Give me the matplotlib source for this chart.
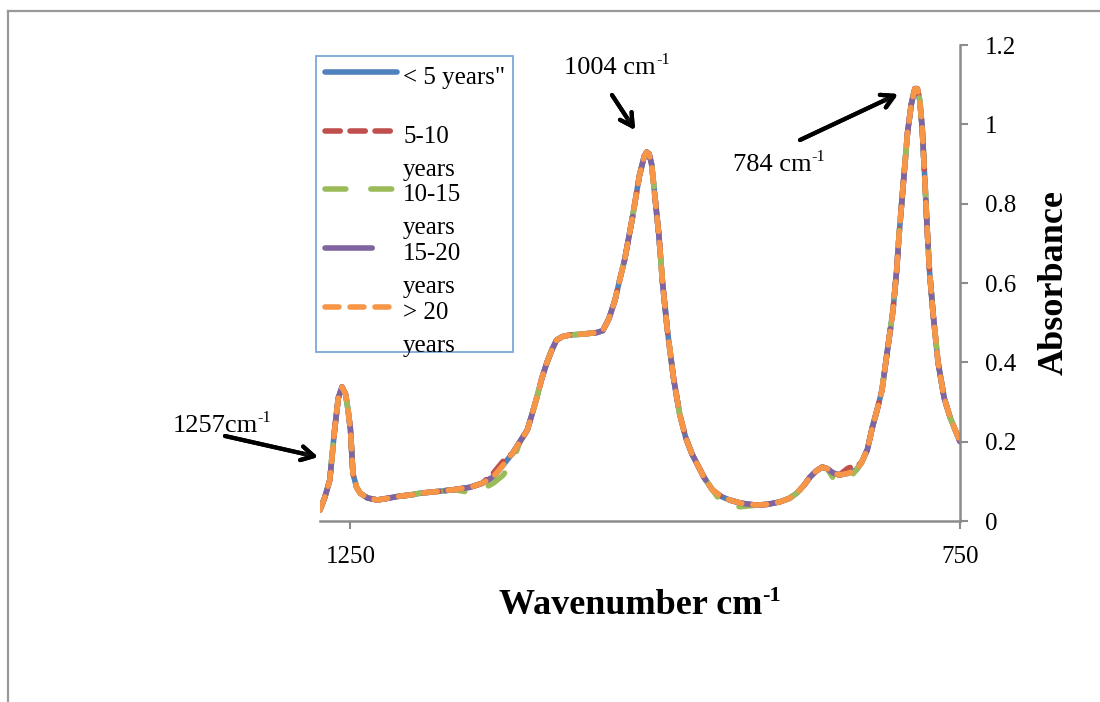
import matplotlib.pyplot as plt
import matplotlib.patheffects as pe
from matplotlib.lines import Line2D
from matplotlib.patches import Rectangle

plt.rcParams['font.family'] = ['Liberation Serif', 'DejaVu Serif']
plt.rcParams['lines.scale_dashes'] = False

# FTIR spectra, values
wavenumber = [1275, 1271, 1267, 1263, 1260, 1257, 1254, 1252, 1250, 1248,
              1245, 1242, 1236, 1228, 1220, 1211, 1200, 1193, 1180, 1165,
              1152, 1142, 1133, 1125, 1117, 1111, 1105, 1101, 1097, 1093,
              1089, 1085, 1081, 1076, 1070, 1060, 1048, 1043, 1038, 1033,
              1029, 1025, 1019, 1013, 1009, 1007, 1005, 1003, 1000, 997,
              994, 990, 985, 980, 975, 970, 966, 960, 953, 946,
              939, 930, 917, 908, 898, 890, 884, 878, 873, 868,
              863, 859, 854, 849, 842, 835, 831, 826, 822, 818,
              814, 810, 805, 802, 800, 796, 793, 790, 787, 785,
              783, 781, 779, 777, 775, 772, 768, 763, 758, 754,
              750]

abs_lt5 = [0.028, 0.060, 0.103, 0.230, 0.310, 0.338, 0.320, 0.280, 0.230, 0.120,
           0.085, 0.070, 0.058, 0.053, 0.057, 0.062, 0.066, 0.070, 0.074, 0.079,
           0.085, 0.095, 0.111, 0.140, 0.171, 0.200, 0.229, 0.270, 0.313, 0.360,
           0.398, 0.430, 0.456, 0.465, 0.469, 0.471, 0.475, 0.480, 0.510, 0.557,
           0.610, 0.660, 0.760, 0.870, 0.920, 0.930, 0.925, 0.900, 0.810, 0.720,
           0.600, 0.480, 0.360, 0.270, 0.210, 0.170, 0.146, 0.110, 0.078, 0.062,
           0.053, 0.045, 0.040, 0.042, 0.048, 0.057, 0.070, 0.090, 0.111, 0.126,
           0.136, 0.132, 0.121, 0.116, 0.120, 0.129, 0.146, 0.180, 0.235, 0.280,
           0.330, 0.420, 0.530, 0.630, 0.720, 0.870, 0.980, 1.050, 1.090, 1.090,
           1.060, 0.990, 0.870, 0.740, 0.630, 0.520, 0.400, 0.310, 0.260, 0.230,
           0.200]

abs_5_10 = [0.028, 0.060, 0.103, 0.230, 0.310, 0.338, 0.320, 0.280, 0.230, 0.120,
            0.085, 0.070, 0.058, 0.053, 0.057, 0.062, 0.066, 0.070, 0.074, 0.079,
            0.085, 0.095, 0.120, 0.150, 0.171, 0.200, 0.229, 0.270, 0.313, 0.360,
            0.398, 0.430, 0.456, 0.465, 0.469, 0.471, 0.475, 0.480, 0.510, 0.557,
            0.610, 0.660, 0.760, 0.870, 0.920, 0.930, 0.925, 0.900, 0.810, 0.720,
            0.600, 0.480, 0.360, 0.270, 0.210, 0.170, 0.146, 0.110, 0.078, 0.062,
            0.053, 0.045, 0.040, 0.042, 0.048, 0.057, 0.070, 0.090, 0.111, 0.126,
            0.136, 0.132, 0.121, 0.116, 0.133, 0.140, 0.146, 0.180, 0.235, 0.280,
            0.330, 0.420, 0.530, 0.630, 0.720, 0.870, 0.980, 1.050, 1.090, 1.090,
            1.060, 0.990, 0.870, 0.740, 0.630, 0.520, 0.400, 0.310, 0.260, 0.230,
            0.200]

abs_10_15 = [0.028, 0.060, 0.103, 0.230, 0.310, 0.338, 0.320, 0.280, 0.230, 0.120,
             0.085, 0.070, 0.058, 0.053, 0.057, 0.062, 0.066, 0.070, 0.074, 0.079,
             0.072, 0.080, 0.095, 0.115, 0.148, 0.200, 0.229, 0.270, 0.313, 0.360,
             0.398, 0.430, 0.456, 0.465, 0.469, 0.471, 0.475, 0.480, 0.510, 0.557,
             0.610, 0.660, 0.760, 0.870, 0.920, 0.930, 0.925, 0.900, 0.810, 0.720,
             0.600, 0.480, 0.360, 0.270, 0.210, 0.170, 0.146, 0.110, 0.078, 0.048,
             0.038, 0.036, 0.040, 0.042, 0.048, 0.057, 0.070, 0.090, 0.111, 0.126,
             0.136, 0.132, 0.108, 0.100, 0.103, 0.129, 0.146, 0.180, 0.235, 0.280,
             0.330, 0.420, 0.530, 0.630, 0.720, 0.870, 0.980, 1.050, 1.100, 1.100,
             1.060, 0.990, 0.870, 0.740, 0.630, 0.520, 0.400, 0.310, 0.260, 0.230,
             0.200]

# these two sit right on top of the < 5 years trace
abs_15_20 = list(abs_lt5)
abs_gt20 = list(abs_lt5)

labels = [['< 5 years"'], ['5-10', 'years'], ['10-15', 'years'],
          ['15-20', 'years'], ['> 20', 'years']]
colors = ['#4F81BD', '#C0504D', '#9BBB59', '#8064A2', '#F79646']
dash_list = [None, (11, 7), (15, 18), (34, 24), (10, 8)]
series = [abs_lt5, abs_5_10, abs_10_15, abs_15_20, abs_gt20]

W, H = 1100, 702
LW = 4.0


def px(x, y):
    return x / W, 1 - y / H


fig = plt.figure(figsize=(11, 7.02), dpi=100)
ax = fig.add_axes([320 / W, 1 - 521 / H, 640 / W, 476 / H])
renderer = fig.canvas.get_renderer()


def sup_text(xc, yb, base, sup, size, weight='normal'):
    # text + raised "-1" (kept as a plain hyphen like the original)
    t1 = fig.text(0, 0, base, fontsize=size, fontweight=weight, ha='left', va='baseline')
    t2 = fig.text(0, 0, sup, fontsize=size * 0.62, fontweight=weight, ha='left',
                  va='baseline')
    w1 = t1.get_window_extent(renderer).width
    w2 = t2.get_window_extent(renderer).width
    x0 = xc - (w1 + w2) / 2
    t1.set_position(px(x0, yb))
    t2.set_position(px(x0 + w1, yb - size * 1.39 * 0.36))


for vals, c, d in zip(series, colors, dash_list):
    if d is None:
        ax.plot(wavenumber, vals, color=c, lw=LW, solid_capstyle='round')
    else:
        ax.plot(wavenumber, vals, color=c, lw=LW, dashes=d, dash_capstyle='round')

ax.set_xlim(1275, 750)
ax.set_ylim(0, 1.2)
ax.set_xticks([1250, 750])
ax.set_yticks([0, 0.2, 0.4, 0.6, 0.8, 1.0, 1.2])
ax.set_yticklabels(['0', '0.2', '0.4', '0.6', '0.8', '1', '1.2'])
ax.yaxis.tick_right()
ax.spines['top'].set_visible(False)
ax.spines['left'].set_visible(False)
for s in ['right', 'bottom']:
    ax.spines[s].set_color('#8c8c8c')
    ax.spines[s].set_linewidth(1.8)
ax.tick_params(axis='both', direction='out', length=6, width=1.5, color='#8c8c8c',
               labelsize=18)
ax.tick_params(axis='x', pad=12)
ax.tick_params(axis='y', pad=12)

sup_text(640, 614, 'Wavenumber cm', '-1', 26, 'bold')
ax.yaxis.set_label_position('right')
ax.set_ylabel('Absorbance', fontsize=26, fontweight='bold', rotation=90)
ax.yaxis.set_label_coords(1.147, 0.5)
ax.yaxis.label.set_verticalalignment('center')
ax.yaxis.label.set_horizontalalignment('center')

# peak annotations
shadow = [pe.withSimplePatchShadow(offset=(1.5, -1.5), alpha=0.25), pe.Normal()]
arrows = [((225, 436), (318, 457)), ((612, 95), (635, 130)), ((800, 140), (898, 94))]
for tail, tip in arrows:
    a = ax.annotate('', xy=px(*tip), xytext=px(*tail), xycoords='figure fraction',
                    textcoords='figure fraction',
                    arrowprops=dict(arrowstyle='->,head_length=0.9,head_width=0.5',
                                    color='black', lw=3.0, shrinkA=0, shrinkB=0))
    a.arrow_patch.set_path_effects(shadow)

sup_text(222, 432, '1257cm', '-1', 19)
sup_text(617, 74, '1004 cm', '-1', 19)
sup_text(779, 171, '784 cm', '-1', 19)

# legend box drawn by hand (Excel wraps the labels under the key)
x0, y0 = px(316, 352)
x1, y1 = px(513, 56)
fig.add_artist(Rectangle((x0, y0), x1 - x0, y1 - y0, transform=fig.transFigure,
                         facecolor='white', edgecolor='#7da7d9', lw=1.3))
key_y = [72, 131, 189, 248, 307]
for lab, c, d, ky in zip(labels, colors, dash_list, key_y):
    xs = [325 / W, 397 / W]
    ys = [1 - ky / H] * 2
    if d is None:
        ln = Line2D(xs, ys, color=c, lw=LW, solid_capstyle='round', transform=fig.transFigure)
    else:
        ln = Line2D(xs, ys, color=c, lw=LW, dashes=d, dash_capstyle='round',
                    transform=fig.transFigure)
    fig.add_artist(ln)
    for i, line in enumerate(lab):
        fig.text(*px(403, ky + 12 + 33 * i), line, fontsize=18, ha='left', va='baseline')

# outer chart frame (only the top and left edges are in view)
fig.add_artist(Line2D([8 / W, 8 / W], [0, 1 - 11 / H], color='#999999', lw=1.6,
                      transform=fig.transFigure))
fig.add_artist(Line2D([8 / W, 1], [1 - 11 / H, 1 - 11 / H], color='#999999', lw=1.6,
                      transform=fig.transFigure))

plt.savefig('out.png', dpi=100)
